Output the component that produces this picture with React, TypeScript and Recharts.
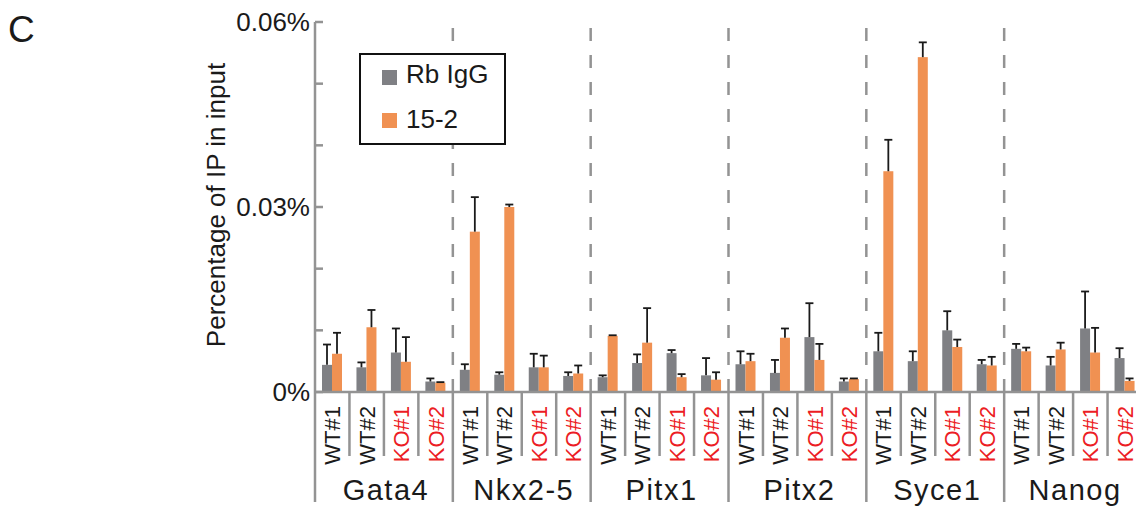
import { BarChart, Bar, XAxis, YAxis, ReferenceLine, Legend } from 'recharts'

// values in %
const genes = ['Gata4', 'Nkx2-5', 'Pitx1', 'Pitx2', 'Syce1', 'Nanog']
const samples = ['WT#1', 'WT#2', 'KO#1', 'KO#2']
const seriesNames = ['Rb IgG', '15-2']

const rbIgG = [
    0.0044, 0.0040, 0.0064, 0.0017,
    0.0036, 0.0028, 0.0040, 0.0026,
    0.0024, 0.0047, 0.0063, 0.0027,
    0.0045, 0.0031, 0.0089, 0.0017,
    0.0066, 0.0050, 0.0100, 0.0045,
    0.0070, 0.0043, 0.0103, 0.0055,
]
const rbIgGErr = [
    0.0033, 0.0008, 0.0039, 0.0005,
    0.0009, 0.0004, 0.0022, 0.0006,
    0.0003, 0.0014, 0.0005, 0.0028,
    0.0021, 0.0021, 0.0055, 0.0005,
    0.0030, 0.0016, 0.0031, 0.0007,
    0.0008, 0.0014, 0.0060, 0.0016,
]
const ab152 = [
    0.0062, 0.0105, 0.0049, 0.0015,
    0.0260, 0.0300, 0.0040, 0.0030,
    0.0091, 0.0080, 0.0024, 0.0020,
    0.0050, 0.0088, 0.0052, 0.0021,
    0.0358, 0.0543, 0.0073, 0.0043,
    0.0066, 0.0069, 0.0064, 0.0018,
]
const ab152Err = [
    0.0034, 0.0028, 0.0040, 0.0001,
    0.0056, 0.0004, 0.0019, 0.0013,
    0.0001, 0.0056, 0.0005, 0.0012,
    0.0012, 0.0015, 0.0026, 0.0001,
    0.0051, 0.0024, 0.0012, 0.0014,
    0.0006, 0.0011, 0.0040, 0.0004,
]

const yTicks = [0, 0.01, 0.02, 0.03, 0.04, 0.05, 0.06]
const yTickLabels = ['0%', '', '', '0.03%', '', '', '0.06%']

const data = genes.flatMap((g, gi) => samples.map((s, si) => {
    const i = gi * 4 + si
    return { key: `${g}|${s}`, gene: g, sample: s, ig: rbIgG[i], igErr: rbIgGErr[i], ab: ab152[i], abErr: ab152Err[i] }
}))

const FONT = '"Liberation Sans", Arial, Helvetica, sans-serif'
const GRAY = '#7f8084'
const ORANGE = '#f09152'
const AXIS = '#939393'
const RED = '#ec1c24'

const CHART_W = 1160
const CHART_H = 510
const margin = { top: 22, right: 18, bottom: 0, left: 195 }
const YAXIS_W = 120
const BW = (CHART_W - margin.left - margin.right - YAXIS_W) / data.length

const withErr = (valKey: string, errKey: string) => (p: any) => {
    const { x, y, width, height, fill, payload } = p
    const v = payload[valKey]
    const pxPer = v ? height / v : 0
    const top = y - payload[errKey] * pxPer
    const cx = x + width / 2
    return <g>
        <rect x={x} y={y} width={width} height={height} fill={fill} />
        <line x1={cx} x2={cx} y1={y} y2={top} stroke='#1a1a1a' strokeWidth={1.8} />
        <line x1={cx - 4} x2={cx + 4} y1={top} y2={top} stroke='#1a1a1a' strokeWidth={1.8} />
    </g>
}

const XTick = ({ x, y, index }: any) => {
    const d = data[index]
    if (!d) return null
    const x0 = x - BW / 2
    const first = index % 4 === 0
    const ty = y + 14
    return <g>
        <line x1={x0} x2={x0} y1={y} y2={y + (first ? 110 : 64)} stroke={AXIS} strokeWidth={2.5} />
        <text x={x} y={ty} transform={`rotate(-90 ${x} ${ty})`} textAnchor='end' dy='0.36em'
            fontSize={22} fontFamily={FONT} fill={d.sample.startsWith('KO') ? RED : '#1a1a1a'}>{d.sample}</text>
        {first && <text x={x0 + 2 * BW + 2} y={y + 108} textAnchor='middle' fontSize={29} letterSpacing={1.5}
            fontFamily={FONT} fill='#1a1a1a'>{d.gene}</text>}
    </g>
}

const YTick = ({ x, y, payload }: any) => {
    const label = yTickLabels[yTicks.indexOf(payload.value)]
    return <g>
        <line x1={x} x2={x + 8} y1={y} y2={y} stroke={AXIS} strokeWidth={2.5} />
        {label && <text x={x - 5} y={y} dy='0.36em' textAnchor='end' fontSize={26} fontFamily={FONT} fill='#1a1a1a'>{label}</text>}
    </g>
}

const YLabel = ({ viewBox }: any) => {
    const cx = viewBox.x + 21
    const cy = viewBox.y + viewBox.height / 2 - 2
    return <text x={cx} y={cy} transform={`rotate(-90 ${cx} ${cy})`} textAnchor='middle' dy='0.36em'
        fontSize={26} fontFamily={FONT} fill='#1a1a1a'>Percentage of IP in input</text>
}

const LegendBox = ({ payload }: any) => {
    const items = [...(payload || [])].sort((a: any, b: any) => seriesNames.indexOf(a.value) - seriesNames.indexOf(b.value))
    return <div style={{
        position: 'relative', width: 147, height: 92, boxSizing: 'border-box',
        border: '2px solid #111', background: 'white', fontFamily: FONT,
    }}>
        {items.map((e: any, i: number) => <div key={e.value}>
            <div style={{ position: 'absolute', left: 21, top: 15 + i * 43, width: 15, height: 15, background: e.color }} />
            <div style={{ position: 'absolute', left: 45, top: 6 + i * 45, fontSize: 26, lineHeight: '26px', color: '#1a1a1a', whiteSpace: 'nowrap' }}>{e.value}</div>
        </div>)}
    </div>
}

const boundaries = genes.slice(1).map((_, gi) => data[(gi + 1) * 4].key)

export default function App() {
    return <div style={{ position: 'absolute', left: 0, top: 0, width: 1136, height: 510, overflow: 'hidden', background: 'white' }}>
        <div style={{ position: 'absolute', left: 8, top: 11, fontSize: 37, lineHeight: '37px', fontFamily: FONT, color: '#1a1a1a' }}>C</div>
        <BarChart width={CHART_W} height={CHART_H} data={data} margin={margin} barSize={10} barGap={0}>
            <XAxis dataKey='key' interval={0} height={118} tickSize={0} tickMargin={0} tickLine={false}
                axisLine={{ stroke: AXIS, strokeWidth: 2.5 }} tick={<XTick />} />
            <YAxis type='number' domain={[0, 0.06]} ticks={yTicks} width={YAXIS_W} tickSize={0} tickMargin={0}
                tickLine={false} axisLine={{ stroke: AXIS, strokeWidth: 2.5 }} tick={<YTick />}
                label={{ content: (p: any) => <YLabel {...p} /> }} />
            {boundaries.map(k => <ReferenceLine key={k} x={k} position='start' stroke={AXIS} strokeWidth={2.5} strokeDasharray='13 14' />)}
            <Legend layout='vertical' align='center' verticalAlign='middle' content={<LegendBox />}
                wrapperStyle={{ left: 359, top: 53, width: 147, height: 92 }} />
            <Bar dataKey='ig' name='Rb IgG' fill={GRAY} isAnimationActive={false} shape={withErr('ig', 'igErr')} />
            <Bar dataKey='ab' name='15-2' fill={ORANGE} isAnimationActive={false} shape={withErr('ab', 'abErr')} />
        </BarChart>
    </div>
}
